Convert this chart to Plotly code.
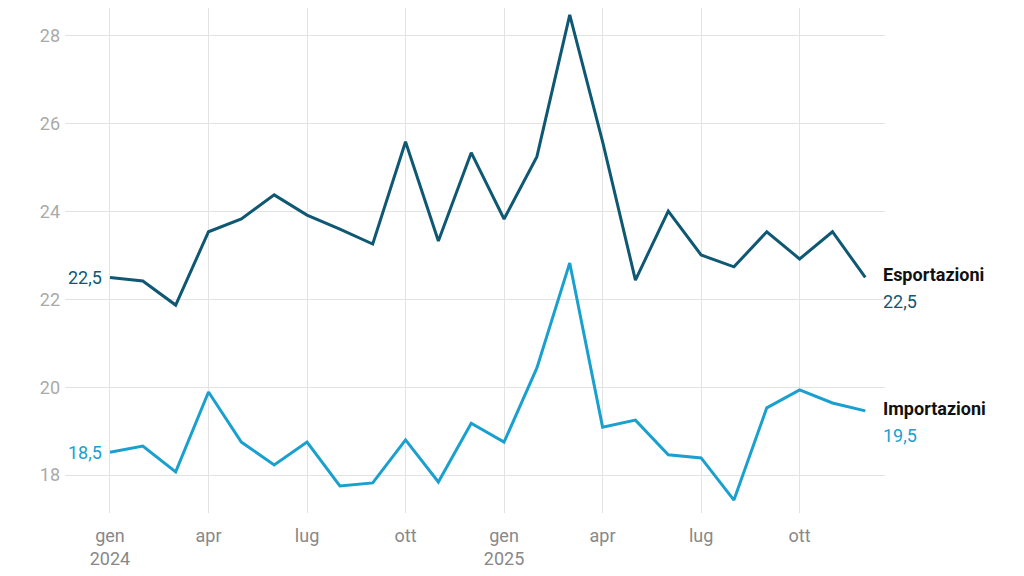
import plotly.graph_objects as go

months = ["2024-01","2024-02","2024-03","2024-04","2024-05","2024-06","2024-07","2024-08","2024-09","2024-10","2024-11","2024-12",
          "2025-01","2025-02","2025-03","2025-04","2025-05","2025-06","2025-07","2025-08","2025-09","2025-10","2025-11","2025-12"]
esportazioni = [22.5,22.42,21.87,23.54,23.83,24.38,23.92,23.6,23.26,25.59,23.33,25.34,
                23.83,25.25,28.48,25.59,22.44,24.01,23.01,22.74,23.54,22.92,23.54,22.5]
importazioni = [18.52,18.66,18.07,19.89,18.75,18.23,18.75,17.75,17.82,18.8,17.84,19.18,
                18.75,20.44,22.83,19.09,19.25,18.46,18.39,17.43,19.53,19.94,19.64,19.46]
tick_idx = [0,3,6,9,12,15,18,21]
tick_text = ["gen<br>2024","apr","lug","ott","gen<br>2025","apr","lug","ott"]

C_EXP = "#0f5873"
C_IMP = "#1aa0cf"
x = list(range(len(months)))

fig = go.Figure()
fig.add_trace(go.Scatter(x=x, y=esportazioni, mode="lines", line=dict(color=C_EXP, width=3), customdata=months))
fig.add_trace(go.Scatter(x=x, y=importazioni, mode="lines", line=dict(color=C_IMP, width=3), customdata=months))

def fmt(v):
    return f"{v:.1f}".replace(".", ",")

ann = []
for ys, c, name in [(esportazioni, C_EXP, "Esportazioni"), (importazioni, C_IMP, "Importazioni")]:
    ann.append(dict(x=x[0], y=ys[0], text=fmt(ys[0]), xanchor="right", xshift=-6, showarrow=False,
                    font=dict(color=c, size=18)))
    ann.append(dict(x=x[-1], y=ys[-1], text=f"<b>{name}</b>", xanchor="left", yanchor="bottom", xshift=16, yshift=-10,
                    showarrow=False, font=dict(color="#111", size=18)))
    ann.append(dict(x=x[-1], y=ys[-1], text=fmt(round(ys[-1], 1)), xanchor="left", yanchor="top", xshift=16, yshift=-12,
                    showarrow=False, font=dict(color=c, size=18)))

fig.update_layout(
    width=1024, height=576, showlegend=False, plot_bgcolor="white", paper_bgcolor="white",
    margin=dict(l=57, r=147, t=0, b=71),
    font=dict(family="Roboto", size=18, color="#999"),
    annotations=ann,
    xaxis=dict(range=[-1.37, 23.6], tickvals=tick_idx, ticktext=tick_text, showgrid=True,
               gridcolor="#e3e3e3", zeroline=False, tickfont=dict(color="#888", size=18),
               ticklabelstandoff=10),
    yaxis=dict(range=[17.135, 28.635], dtick=2, showgrid=True, gridcolor="#e3e3e3", zeroline=False,
               tickfont=dict(color="#aaa", size=18), ticklabelstandoff=4),
)
fig.write_html("out.html")
